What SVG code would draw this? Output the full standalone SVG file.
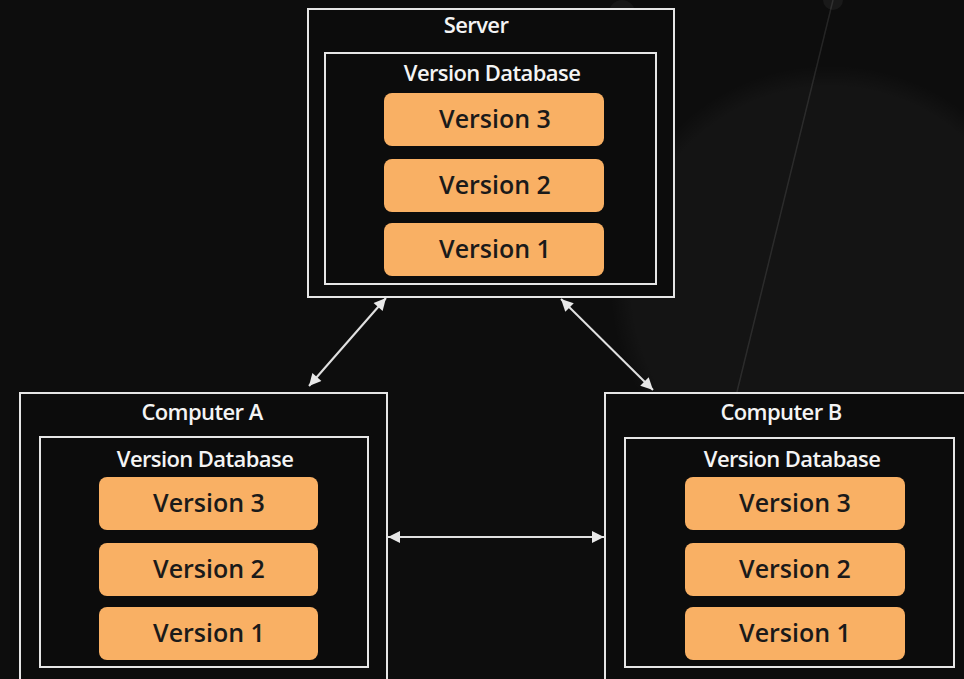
<svg xmlns="http://www.w3.org/2000/svg" width="964" height="679" viewBox="0 0 964 679">
<defs>
<style>
.outer{fill:#0c0c0c;stroke:#e6e6e6;stroke-width:2}
.inner{fill:#0c0c0c;stroke:#e6e6e6;stroke-width:2}
.ver{fill:#f9b064}
.title{font-family:"Open Sans","Noto Sans","Liberation Sans",sans-serif;font-size:22px;font-weight:600;fill:#f4f4f4;text-anchor:middle;letter-spacing:-0.6px}
.vt{font-family:"Open Sans","Noto Sans","Liberation Sans",sans-serif;font-size:25px;font-weight:600;fill:#1a1a1a;text-anchor:middle}
.conn{stroke:#e0e0e0;stroke-width:2;fill:none}
</style>
<marker id="ah" viewBox="0 0 10 10" refX="10" refY="5" markerWidth="7" markerHeight="6" markerUnits="strokeWidth" orient="auto-start-reverse">
<path d="M0,0 L10,5 L0,10 z" fill="#e8e8e8"/>
</marker>
<radialGradient id="glow" cx="0.5" cy="0.5" r="0.5">
<stop offset="0" stop-color="#ffffff" stop-opacity="0.03"/>
<stop offset="0.9" stop-color="#ffffff" stop-opacity="0.03"/>
<stop offset="1" stop-color="#ffffff" stop-opacity="0"/>
</radialGradient>
</defs>
<rect width="964" height="679" fill="#0d0d0d"/>
<g id="background">
<circle cx="830" cy="285" r="220" fill="url(#glow)"/>
<circle cx="990" cy="570" r="60" fill="#ffffff" fill-opacity="0.02"/>
<circle cx="622" cy="13" r="13" fill="#ffffff" fill-opacity="0.04"/>
<circle cx="833" cy="0" r="10" fill="#ffffff" fill-opacity="0.05"/>
<line x1="833" y1="0" x2="735" y2="400" stroke="#ffffff" stroke-opacity="0.1" stroke-width="1.5"/>
</g>
<g id="server">
<rect class="outer" x="308" y="9" width="366" height="288"/>
<text class="title" x="476" y="33">Server</text>
<rect class="inner" x="325" y="53" width="331" height="231"/>
<text class="title" x="492" y="81">Version Database</text>
<rect class="ver" x="384" y="93" width="220" height="53" rx="8"/>
<text class="vt" x="495" y="128">Version 3</text>
<rect class="ver" x="384" y="159" width="220" height="53" rx="8"/>
<text class="vt" x="495" y="194">Version 2</text>
<rect class="ver" x="384" y="223" width="220" height="53" rx="8"/>
<text class="vt" x="495" y="258">Version 1</text>
</g>
<g id="computer-a">
<rect class="outer" x="20" y="393" width="367" height="300"/>
<text class="title" x="202" y="420">Computer A</text>
<rect class="inner" x="40" y="437" width="328" height="230"/>
<text class="title" x="205" y="467">Version Database</text>
<rect class="ver" x="99" y="477" width="219" height="53" rx="8"/>
<text class="vt" x="209" y="512">Version 3</text>
<rect class="ver" x="99" y="543" width="219" height="53" rx="8"/>
<text class="vt" x="209" y="578">Version 2</text>
<rect class="ver" x="99" y="607" width="219" height="53" rx="8"/>
<text class="vt" x="209" y="642">Version 1</text>
</g>
<g id="computer-b">
<rect class="outer" x="605" y="393" width="375" height="300"/>
<text class="title" x="781" y="420">Computer B</text>
<rect class="inner" x="625" y="438" width="329" height="229"/>
<text class="title" x="792" y="467">Version Database</text>
<rect class="ver" x="685" y="477" width="220" height="53" rx="8"/>
<text class="vt" x="795" y="512">Version 3</text>
<rect class="ver" x="685" y="543" width="220" height="53" rx="8"/>
<text class="vt" x="795" y="578">Version 2</text>
<rect class="ver" x="685" y="607" width="220" height="53" rx="8"/>
<text class="vt" x="795" y="642">Version 1</text>
</g>
<g id="connectors">
<line class="conn" x1="386" y1="298" x2="309" y2="386" marker-start="url(#ah)" marker-end="url(#ah)"/>
<line class="conn" x1="561" y1="299" x2="653" y2="390" marker-start="url(#ah)" marker-end="url(#ah)"/>
<line class="conn" x1="388" y1="537" x2="604" y2="537" marker-start="url(#ah)" marker-end="url(#ah)"/>
</g>
</svg>
